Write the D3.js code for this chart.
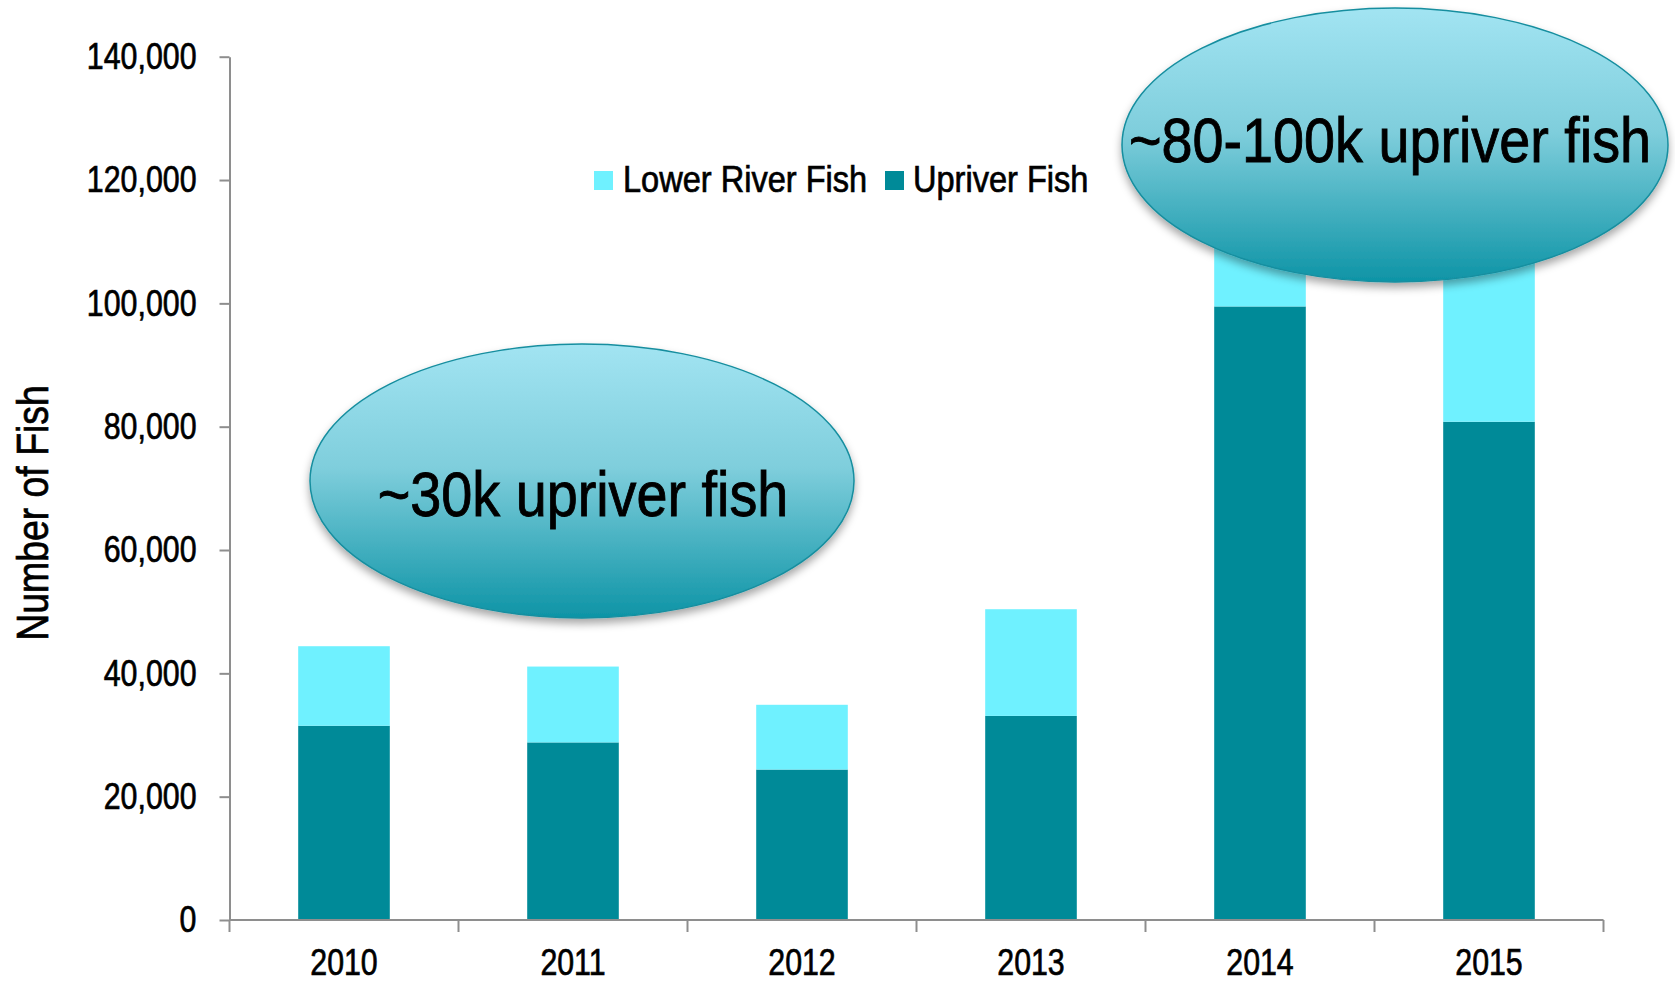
<!DOCTYPE html>
<html>
<head>
<meta charset="utf-8">
<script src="https://cdn.jsdelivr.net/npm/d3@7"></script>
<style>
  html, body { margin: 0; padding: 0; background: #fff; }
  svg { display: block; }
  .narrow { font-family: "Liberation Sans", Arial, "DejaVu Sans", sans-serif; stroke: #000; stroke-width: 0.7px; fill: #000; }
</style>
</head>
<body>
<svg id="chart" width="1675" height="983"></svg>
<script>
// ---- data ----
const years = ["2010", "2011", "2012", "2013", "2014", "2015"];
const upriverFish = [31500, 28800, 24400, 33100, 99500, 80800];
const lowerRiverFish = [12900, 12300, 10500, 17300, 18000, 30000];
const yTicks = [0, 20000, 40000, 60000, 80000, 100000, 120000, 140000];
const seriesNames = ["Lower River Fish", "Upriver Fish"];
const bubbleNotes = [
  { text: "~30k upriver fish", cx: 582, cy: 481, rx: 272, ry: 137, tx: 583, ty: 516 },
  { text: "~80-100k upriver fish", cx: 1395, cy: 145, rx: 273, ry: 137, tx: 1390, ty: 162 }
];

(function () {
const SX = 0.82; // horizontal condensing for numerals
const colors = { lower: "#6ff1ff", upriver: "#008a98", axis: "#8e8e8e" };

const svg = d3.select("#chart");
const mLeft = 229.5, mRight = 1603.5, mTop = 56.7, mBottom = 920;

const x = d3.scaleBand().domain(years).range([mLeft, mRight]).paddingInner(0.6).paddingOuter(0.3);
const y = d3.scaleLinear().domain([0, 140000]).range([mBottom, mTop]);

const rows = years.map((yr, i) => ({ year: yr, upriver: upriverFish[i], lower: lowerRiverFish[i] }));
const stack = d3.stack().keys(["upriver", "lower"])(rows);

function narrowText(parent, tx, ty, size, anchor, str, sx, rotate) {
  const g = parent.append("g").attr("transform", `translate(${tx},${ty})` + (rotate ? ` rotate(${rotate})` : "") + ` scale(${sx},1)`);
  return g.append("text").attr("class", "narrow").attr("text-anchor", anchor).attr("font-size", size).text(str);
}

// defs: gradient + shadow
const defs = svg.append("defs");
const grad = defs.append("linearGradient").attr("id", "bubbleGrad")
  .attr("x1", 0).attr("y1", 0).attr("x2", 0).attr("y2", 1);
grad.append("stop").attr("offset", "0%").attr("stop-color", "#a2e4f2");
grad.append("stop").attr("offset", "45%").attr("stop-color", "#7fcedc");
grad.append("stop").attr("offset", "100%").attr("stop-color", "#0e94a6");
const f = defs.append("filter").attr("id", "shadow").attr("x", "-20%").attr("y", "-20%").attr("width", "140%").attr("height", "150%");
f.append("feDropShadow").attr("dx", 0).attr("dy", 5).attr("stdDeviation", 4)
  .attr("flood-color", "#000").attr("flood-opacity", 0.35);

// bars
svg.append("g").selectAll("g").data(stack).join("g")
  .attr("fill", d => d.key === "upriver" ? colors.upriver : colors.lower)
  .selectAll("rect").data(d => d).join("rect")
  .attr("x", d => x(d.data.year))
  .attr("width", x.bandwidth())
  .attr("y", d => y(d[1]))
  .attr("height", d => y(d[0]) - y(d[1]));

// y axis
const yAxis = svg.append("g").attr("transform", `translate(${mLeft},0)`)
  .call(d3.axisLeft(y).tickValues(yTicks).tickSize(10).tickSizeOuter(0).tickPadding(23)
    .tickFormat(d3.format(",")));
yAxis.select(".domain").attr("stroke", colors.axis).attr("stroke-width", 2);
yAxis.selectAll(".tick line").attr("stroke", colors.axis).attr("stroke-width", 2);
yAxis.selectAll(".tick text").attr("class", "narrow").attr("font-size", 37)
  .attr("x", -33 / SX).attr("transform", `scale(${SX},1)`);

// x axis (labels) + boundary ticks
const xAxis = svg.append("g").attr("transform", `translate(0,${mBottom})`)
  .call(d3.axisBottom(x).tickSize(0).tickPadding(29).tickSizeOuter(0));
xAxis.select(".domain").remove();
xAxis.selectAll(".tick text").attr("class", "narrow").attr("font-size", 37)
  .attr("transform", `scale(${SX},1)`);
const step = x.step();
const bounds = d3.range(years.length + 1).map(i => mLeft + i * step);
svg.append("line").attr("x1", mLeft).attr("x2", mRight).attr("y1", mBottom).attr("y2", mBottom)
  .attr("stroke", colors.axis).attr("stroke-width", 2);
svg.append("g").selectAll("line").data(bounds).join("line")
  .attr("x1", d => d).attr("x2", d => d).attr("y1", mBottom).attr("y2", mBottom + 12)
  .attr("stroke", colors.axis).attr("stroke-width", 2);

// y title
narrowText(svg, 48, 513, 44, "middle", "Number of Fish", 0.85, -90);

// legend
const legend = svg.append("g");
const legendItems = [
  { name: seriesNames[0], color: colors.lower, sx: 594, tx: 623 },
  { name: seriesNames[1], color: colors.upriver, sx: 885, tx: 913 }
];
legendItems.forEach(it => {
  legend.append("rect").attr("x", it.sx).attr("y", 171).attr("width", 19).attr("height", 19).attr("fill", it.color);
  narrowText(legend, it.tx, 192, 37, "start", it.name, 0.88);
});

// bubbles
bubbleNotes.forEach(b => {
  svg.append("ellipse").attr("cx", b.cx).attr("cy", b.cy).attr("rx", b.rx).attr("ry", b.ry)
    .attr("fill", "url(#bubbleGrad)").attr("stroke", "#168e9f").attr("stroke-width", 1.5)
    .attr("filter", "url(#shadow)");
  narrowText(svg, b.tx, b.ty, 63, "middle", b.text, 0.885).style("stroke-width", "0.9px");
});
})();
</script>
</body>
</html>
